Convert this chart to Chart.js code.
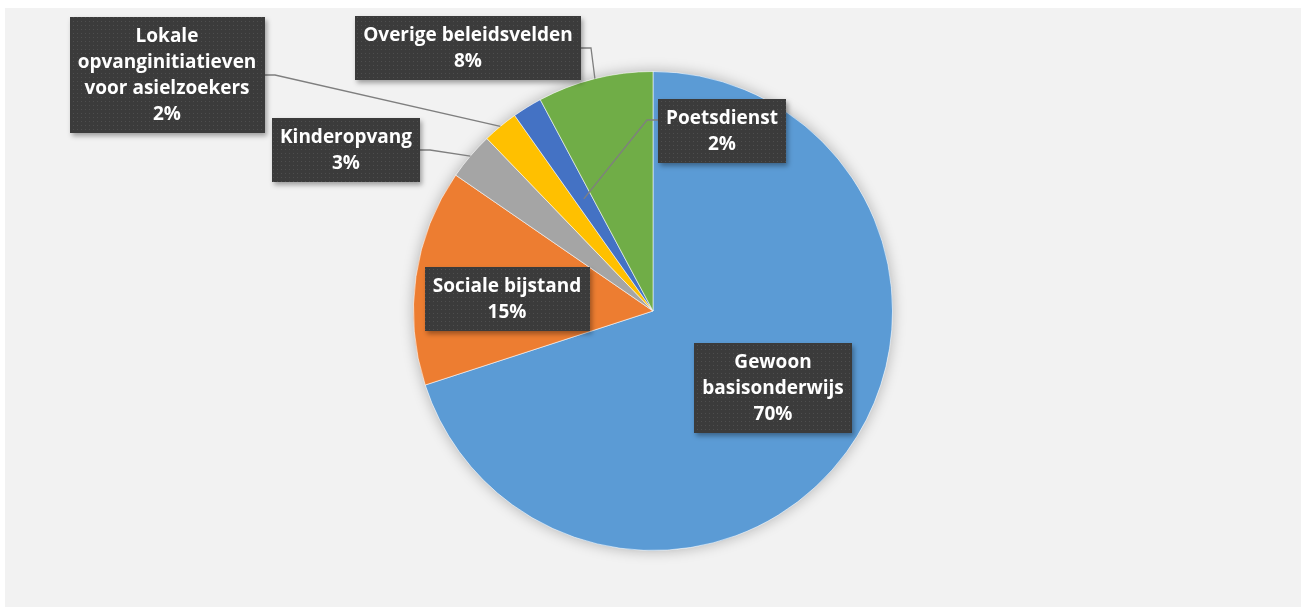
<!DOCTYPE html>
<html>
<head>
<meta charset="utf-8">
<script src="https://cdn.jsdelivr.net/npm/chart.js@4.4.1/dist/chart.umd.min.js"></script>
<style>
  html, body { margin: 0; padding: 0; background: #fff; }
  #wrap { width: 1301px; height: 607px; }
</style>
</head>
<body>
<div id="wrap"><canvas id="piechart"></canvas></div>
<script>
// slice data, clockwise from 12 o'clock
const categories = [
    ['Gewoon', 'basisonderwijs'],
    ['Sociale bijstand'],
    ['Kinderopvang'],
    ['Lokale', 'opvanginitiatieven', 'voor asielzoekers'],
    ['Poetsdienst'],
    ['Overige beleidsvelden']
];
const shares = [70.0, 14.6, 3.2, 2.4, 2.0, 7.8];
const sliceColors = ['#5B9BD5', '#ED7D31', '#A5A5A5', '#FFC000', '#4472C4', '#70AD47'];

// label box placement, offsets (px) of the box centre from the pie centre
const labelBoxes = [
    { dx: 120, dy: 77 },
    { dx: -146, dy: -12 },
    { dx: -307, dy: -161, side: 'right', lineR: 1.0, lineDy: 0 },
    { dx: -486, dy: -236, side: 'right', lineR: 1.0, lineDy: 0 },
    { dx: 69, dy: -180, side: 'left', lineR: 0.55, lineDy: -11 },
    { dx: -185, dy: -263, side: 'right', lineR: 1.0, lineDy: 0 }
];

const FONT = 'bold 19px "Open Sans", Lato, sans-serif';
const LINE_H = 26, PAD_X = 8, PAD_Y = 6;

// dotted dark fill used by the label boxes
function makePattern(ctx) {
    const c = document.createElement('canvas');
    c.width = 4; c.height = 4;
    const p = c.getContext('2d');
    p.fillStyle = '#3b3b3b';
    p.fillRect(0, 0, 4, 4);
    p.fillStyle = '#4e4e4e';
    p.fillRect(1, 1, 1, 1);
    return ctx.createPattern(c, 'repeat');
}

const backgroundPlugin = {
    id: 'background',
    beforeDraw(chart) {
        const ctx = chart.ctx;
        ctx.save();
        ctx.fillStyle = '#ffffff';
        ctx.fillRect(0, 0, chart.width, chart.height);
        ctx.fillStyle = '#F2F2F2';
        ctx.fillRect(5, 8, chart.width - 5, chart.height - 8);
        ctx.restore();
    },
    beforeDatasetsDraw(chart) {
        // soft halo under the pie
        const arc = chart.getDatasetMeta(0).data[0];
        const ctx = chart.ctx;
        ctx.save();
        ctx.shadowColor = 'rgba(0,0,0,0.28)';
        ctx.shadowBlur = 14;
        ctx.fillStyle = '#F2F2F2';
        ctx.beginPath();
        ctx.arc(arc.x, arc.y, arc.outerRadius, 0, Math.PI * 2);
        ctx.fill();
        ctx.restore();
    }
};

const calloutPlugin = {
    id: 'callouts',
    afterDatasetsDraw(chart) {
        const ctx = chart.ctx;
        const meta = chart.getDatasetMeta(0);
        const total = shares.reduce((a, b) => a + b, 0);
        const pattern = makePattern(ctx);
        ctx.save();
        ctx.font = FONT;
        meta.data.forEach(function(arc, i) {
            const lines = categories[i].concat([Math.round(shares[i] / total * 100) + '%']);
            const layout = labelBoxes[i];
            let w = 0;
            lines.forEach(l => { w = Math.max(w, ctx.measureText(l).width); });
            w = Math.round(w + PAD_X * 2);
            const h = lines.length * LINE_H + PAD_Y * 2;
            const cx = arc.x + layout.dx, cy = arc.y + layout.dy;
            const left = Math.round(cx - w / 2), top = Math.round(cy - h / 2);

            // leader line
            if (layout.side) {
                const mid = (arc.startAngle + arc.endAngle) / 2;
                const r = arc.outerRadius * layout.lineR;
                const ex = arc.x + Math.cos(mid) * r, ey = arc.y + Math.sin(mid) * r;
                const sx = layout.side === 'right' ? left + w : left;
                const sy = cy + layout.lineDy;
                const kx = layout.side === 'right' ? sx + 10 : sx - 11;
                ctx.strokeStyle = '#7f7f7f';
                ctx.lineWidth = 1.3;
                ctx.beginPath();
                ctx.moveTo(sx, sy);
                ctx.lineTo(kx, sy);
                ctx.lineTo(ex, ey);
                ctx.stroke();
            }

            // box
            ctx.save();
            ctx.shadowColor = 'rgba(0,0,0,0.35)';
            ctx.shadowBlur = 5;
            ctx.shadowOffsetX = 2;
            ctx.shadowOffsetY = 3;
            ctx.fillStyle = pattern;
            ctx.fillRect(left, top, w, h);
            ctx.restore();

            // text
            ctx.fillStyle = '#ffffff';
            ctx.textAlign = 'center';
            ctx.textBaseline = 'middle';
            lines.forEach(function(l, k) {
                ctx.fillText(l, cx, top + PAD_Y + LINE_H * k + LINE_H / 2 + 1);
            });
        });
        ctx.restore();
    }
};

const config = {
    type: 'pie',
    data: {
        labels: categories,
        datasets: [{
            data: shares,
            backgroundColor: sliceColors,
            borderColor: 'rgba(255,255,255,0.55)',
            borderWidth: 1
        }]
    },
    options: {
        responsive: true,
        maintainAspectRatio: false,
        animation: false,
        layout: { padding: { top: 71, bottom: 56, left: 5, right: 0 } },
        plugins: {
            legend: { display: false },
            tooltip: { enabled: false }
        }
    },
    plugins: [backgroundPlugin, calloutPlugin]
};

new Chart(document.getElementById('piechart'), config);
</script>
</body>
</html>
